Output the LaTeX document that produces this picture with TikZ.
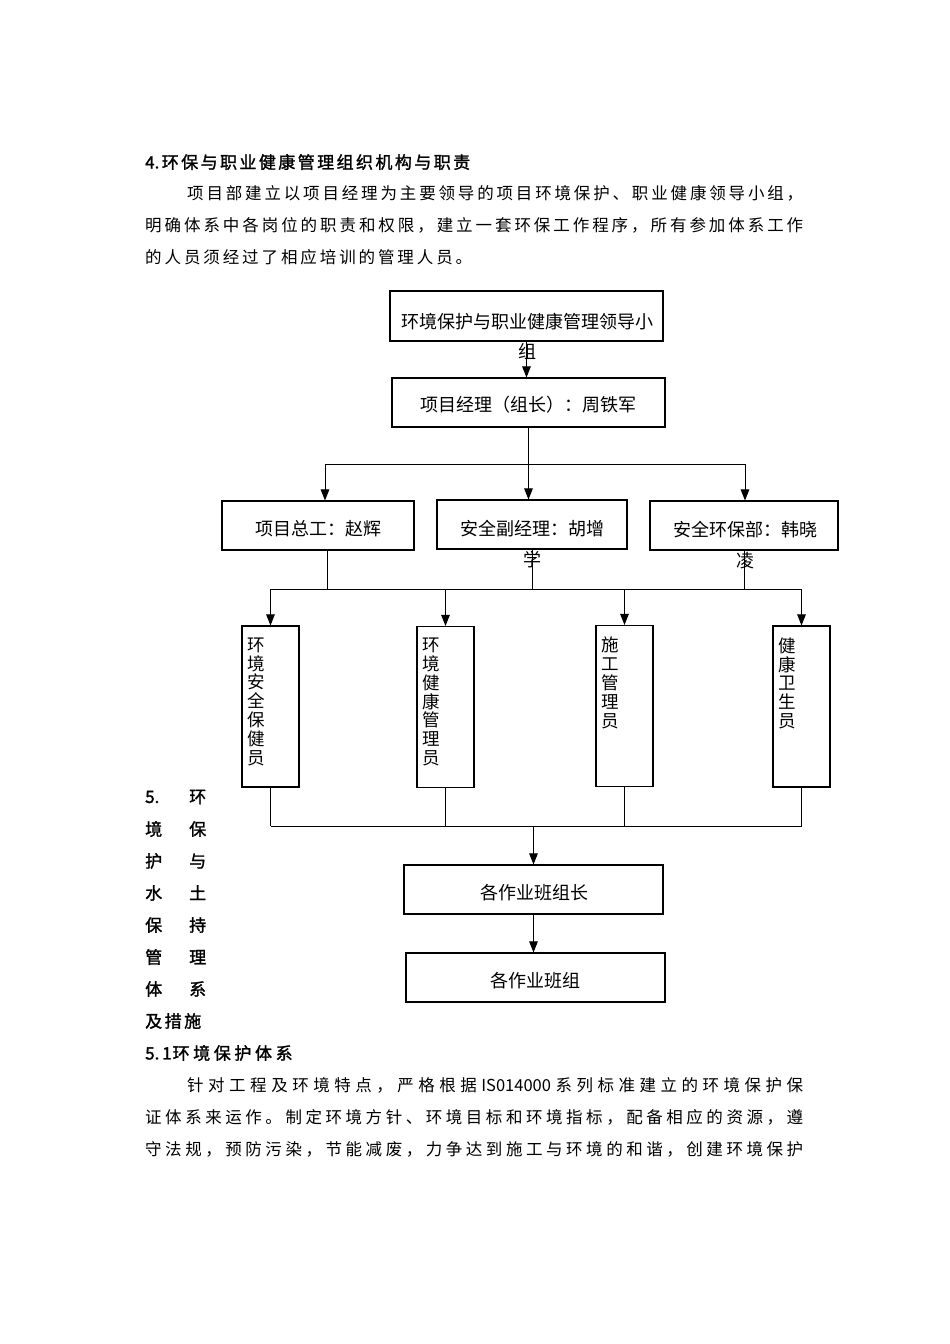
\documentclass[tikz,border=0pt]{standalone}
\usepackage{fontspec}
\usetikzlibrary{arrows.meta}
\newfontfamily\cjk{Noto Sans CJK SC}
\newfontfamily\cjkb[FakeBold=1.5]{Noto Sans CJK SC}
\ExplSyntaxOn
\NewDocumentCommand\spreadline{mm}{\makebox[#1][s]{\tl_map_inline:nn{#2}{##1\hfil}\unskip}}
\ExplSyntaxOff
\tikzset{
 box/.style={draw, line width=1.1pt, inner sep=0pt},
 btxt/.style={font=\cjk\fontsize{18}{22}\selectfont, inner sep=0pt},
 conn/.style={line width=1pt},
 arr/.style={line width=1pt, -{Triangle[length=11pt,width=8.5pt]}},
 dtxt/.style={font=\cjk\fontsize{17.5}{18.8}\selectfont, align=center, inner sep=0pt},
 twoline/.style={font=\cjk\fontsize{18}{31}\selectfont, align=center, inner sep=0pt},
 body/.style={font=\cjk\fontsize{16.5}{20}\selectfont, anchor=west, inner sep=0pt},
 hd/.style={font=\cjkb\fontsize{17}{20}\selectfont, anchor=west, inner sep=0pt},
}
\begin{document}
\begin{tikzpicture}[x=1pt,y=-1pt]
\useasboundingbox (0,0) rectangle (950,1344);
\fill[white] (0,0) rectangle (950,1344);
% top text
\node[hd] (h4) at (145,162) {\spreadline{325pt}{{4.}环保与职业健康管理组织机构与职责}};
\node[body] (p1) at (187,193) {\spreadline{616pt}{项目部建立以项目经理为主要领导的项目环境保护、职业健康领导小组，}};
\node[body] (p2) at (145,225) {\spreadline{658pt}{明确体系中各岗位的职责和权限，建立一套环保工作程序，所有参加体系工作}};
\node[body] (p3) at (145,257) {\spreadline{327pt}{的人员须经过了相应培训的管理人员。}};
% diagram
\node[box, minimum width=273pt, minimum height=50pt] (A) at (526.5,316) {};
\node[twoline, font=\cjk\fontsize{18}{30}\selectfont] (At) at (527,336) {环境保护与职业健康管理领导小\\组};
\node[box, minimum width=273pt, minimum height=49pt] (B) at (528.5,402.5) {};
\node[btxt] (Bt) at ([yshift=-2.5pt]B.center) {项目经理（组长）：周铁军};
\draw[arr] (A.south) -- (A.south |- B.north);
\coordinate (h1) at (325,464);
\coordinate (h3) at (745,464);
\node[box, minimum width=192pt, minimum height=49pt] (C1) at (318,525.5) {};
\node[btxt] (C1t) at ([yshift=-3pt]C1.center) {项目总工：赵辉};
\node[box, minimum width=190pt, minimum height=49pt] (C2) at (532,524.5) {};
\node[twoline] (C2t) at (532,544.5) {安全副经理：胡增\\学};
\node[box, minimum width=188pt, minimum height=49pt] (C3) at (744,525.5) {};
\node[twoline] (C3t) at (745,545) {安全环保部：韩晓\\凌};
\draw[conn] (B.south) -- (B.south |- h1);
\draw[conn] (h1) -- (h3);
\draw[arr] (h1) -- (h1 |- C1.north);
\draw[arr] (B.south |- h1) -- (B.south |- C2.north);
\draw[arr] (h3) -- (h3 |- C3.north);
% second level
\coordinate (g1) at (327,589);
\coordinate (g0) at (270,589);
\coordinate (g4) at (802,589);
\draw[conn] (C1.south -| g1) -- (g1);
\draw[conn] (C2.south) -- (C2.south |- g1);
\draw[conn] (C3.south) -- (C3.south |- g1);
\draw[conn] (g0) -- (g4);
\node[box, minimum width=57pt, minimum height=161pt] (D1) at (270.5,706.5) {};
\node[box, minimum width=57pt, minimum height=161pt] (D2) at (445.5,707) {};
\node[box, minimum width=57pt, minimum height=161pt] (D3) at (624.5,706) {};
\node[box, minimum width=57pt, minimum height=161pt] (D4) at (801.5,706.5) {};
\node[dtxt, anchor=north] (D1t) at ([xshift=-14pt,yshift=-12pt]D1.north) {环\\境\\安\\全\\保\\健\\员};
\node[dtxt, anchor=north] (D2t) at ([xshift=-14pt,yshift=-12pt]D2.north) {环\\境\\健\\康\\管\\理\\员};
\node[dtxt, anchor=north] (D3t) at ([xshift=-14pt,yshift=-12pt]D3.north) {施\\工\\管\\理\\员};
\node[dtxt, anchor=north] (D4t) at ([xshift=-14pt,yshift=-12pt]D4.north) {健\\康\\卫\\生\\员};
\draw[arr] (D1.north |- g0) -- (D1.north);
\draw[arr] (D2.north |- g0) -- (D2.north);
\draw[arr] (D3.north |- g0) -- (D3.north);
\draw[arr] (D4.north |- g0) -- (D4.north);
% bottom
\coordinate (k0) at (270,826);
\draw[conn] (D1.south) -- (D1.south |- k0);
\draw[conn] (D2.south) -- (D2.south |- k0);
\draw[conn] (D3.south) -- (D3.south |- k0);
\draw[conn] (D4.south) -- (D4.south |- k0);
\draw[conn] (D1.south |- k0) -- (D4.south |- k0);
\node[box, minimum width=259pt, minimum height=49pt] (E) at (533.5,889.5) {};
\node[btxt] (Et) at ([xshift=1pt,yshift=-3pt]E.center) {各作业班组长};
\node[box, minimum width=259pt, minimum height=49pt] (F) at (535.5,977.5) {};
\node[btxt] (Ft) at ([yshift=-3pt]F.center) {各作业班组};
\draw[arr] (E.north |- k0) -- (E.north);
\draw[arr] (E.south) -- (E.south |- F.north);
% left column
\node[hd] (l1) at (145,797) {\makebox[61pt][s]{5.\hfil 环}};
\node[hd] (l2) at (145,829) {\makebox[61pt][s]{境\hfil 保}};
\node[hd] (l3) at (145,861) {\makebox[61pt][s]{护\hfil 与}};
\node[hd] (l4) at (145,893) {\makebox[61pt][s]{水\hfil 土}};
\node[hd] (l5) at (145,925) {\makebox[61pt][s]{保\hfil 持}};
\node[hd] (l6) at (145,957) {\makebox[61pt][s]{管\hfil 理}};
\node[hd] (l7) at (145,989) {\makebox[61pt][s]{体\hfil 系}};
\node[hd] (l8) at (145,1021) {\spreadline{56pt}{及措施}};
% lower text
\node[hd] (h51) at (145,1053) {5.\,1\hspace{1pt}\spreadline{120pt}{环境保护体系}};
\node[body] (q1) at (187,1085) {\spreadline{616pt}{针对工程及环境特点，严格根据{IS014000}系列标准建立的环境保护保}};
\node[body] (q2) at (145,1117) {\spreadline{658pt}{证体系来运作。制定环境方针、环境目标和环境指标，配备相应的资源，遵}};
\node[body] (q3) at (145,1149) {\spreadline{658pt}{守法规，预防污染，节能减废，力争达到施工与环境的和谐，创建环境保护}};
\end{tikzpicture}
\end{document}
